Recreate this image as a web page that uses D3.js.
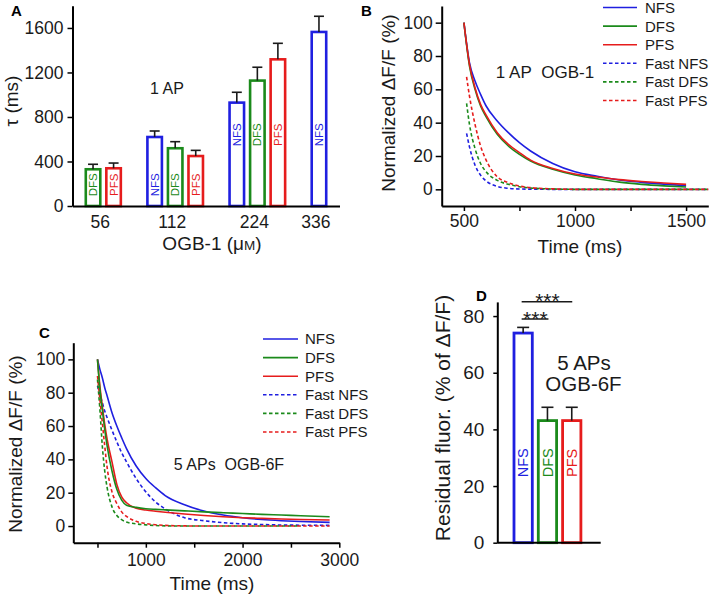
<!DOCTYPE html>
<html><head><meta charset="utf-8">
<script src="https://cdn.jsdelivr.net/npm/d3@7"></script>
<style>
body{margin:0;background:#fff}
svg{display:block;font-family:"Liberation Sans",Arial,Helvetica,sans-serif}
</style></head><body>
<svg id="chart" width="709" height="598"></svg>
<script>
// ---------- Panel A data ----------
const aGroups = ["56","56","112","112","112","224","224","224","336"];
const aSeries = ["DFS","PFS","NFS","DFS","PFS","NFS","DFS","PFS","NFS"];
const aTau    = [330, 339, 620, 519, 449, 929, 1127, 1318, 1564];
const aErr    = [45, 47, 54, 59, 51, 93, 120, 144, 141];
const aTicks  = [0, 400, 800, 1200, 1600];

// ---------- Panel B data (1 AP, OGB-1) ----------
const tB      = [500, 525, 550, 575, 600, 650, 700, 750, 800, 900, 1000, 1100, 1200, 1300, 1400, 1500];
const nfsB    = [100, 76, 65, 57, 50, 41, 34, 28, 23, 15.5, 10.5, 7.8, 5.6, 4.2, 3.1, 2.2];
const dfsB    = [100, 74, 60, 50, 43.5, 33, 26, 21, 17, 12, 8.6, 6.4, 4.3, 3.0, 2.1, 1.4];
const pfsB    = [100, 75, 61, 51, 44.5, 34, 27, 22, 17.5, 12.5, 9.2, 7.4, 5.8, 4.7, 3.8, 3.0];
const tFastB  = [512, 525, 550, 575, 600, 650, 700, 750, 800, 900, 1000, 1200, 1600];
const fastNfsB = [33.6, 25.5, 14.5, 8.5, 5, 1.8, 0.6, 0.2, 0.1, 0, 0, 0, 0];
const fastDfsB = [51.6, 39, 24.5, 15.5, 10.5, 5.4, 3, 1.6, 0.8, 0.2, 0, 0, 0];
const fastPfsB = [67.5, 56, 39, 26, 17.5, 7.5, 4, 2, 1, 0.3, 0, 0, 0];
const bXTicks = [500, 750, 1000, 1250, 1500];
const bYTicks = [0, 20, 40, 60, 80, 100];

// ---------- Panel C data (5 APs, OGB-6F) ----------
const tC      = [500, 525, 550, 575, 600, 650, 700, 750, 800, 900, 1000, 1100, 1200, 1400, 1600, 1800, 2000, 2200, 2400, 2600, 2900];
const nfsC    = [100, 94, 89, 83, 78, 68, 60, 53, 46.5, 36, 28.5, 23, 18.3, 12.8, 9, 6.6, 5, 3.9, 3.2, 2.7, 2.2];
const dfsC    = [100, 82, 70, 58, 48, 33, 22, 15.5, 12.5, 11.2, 10.4, 10, 9.7, 9.1, 8.5, 8, 7.5, 7, 6.6, 6.2, 5.6];
const pfsC    = [100, 84, 72, 61, 52, 38.5, 25, 17.5, 14, 10.6, 9.6, 8.9, 8.3, 7.2, 6.3, 5.6, 5, 4.6, 4.2, 3.9, 3.6];
const fastNfsC = [84, 79, 74, 69, 65, 57.5, 50.5, 44, 38.5, 28.5, 20.5, 14.5, 10.3, 5, 3.2, 2.0, 1.3, 0.9, 0.6, 0.5, 0.4];
const fastDfsC = [88, 70, 48, 33, 23, 11.5, 6.3, 3.8, 2.4, 1.3, 0.7, 0.3, 0.1, 0, 0, 0, 0, 0, 0, 0];
const fastPfsC = [90, 76, 62, 48, 35, 20.5, 13.5, 8.5, 5.8, 2.8, 1.5, 0.8, 0.4, 0.1, 0, 0, 0, 0, 0, 0, 0];
const cXTicks = [500, 1000, 1500, 2000, 2500, 3000];
const cXLabels = [1000, 2000, 3000];
const cYTicks = [0, 20, 40, 60, 80, 100];

// ---------- Panel D data ----------
const dSeries = ["NFS", "DFS", "PFS"];
const dResid  = [74, 43.1, 43.1];
const dErr    = [2, 4.7, 4.7];
const dTicks  = [0, 20, 40, 60, 80];

const legendNames = ["NFS", "DFS", "PFS", "Fast NFS", "Fast DFS", "Fast PFS"];

// ---------- styles ----------
const col = {NFS: "#1f1fe0", DFS: "#1b8a1b", PFS: "#e61c1c"};
const ink = "#1a1a1a";
const svg = d3.select("#chart");
svg.append("rect").attr("width", 709).attr("height", 598).attr("fill", "#fff");

function styleAxis(g, fs) {
  g.select(".domain").attr("stroke", "#000").attr("stroke-width", 2);
  g.selectAll(".tick line").attr("stroke", "#000").attr("stroke-width", 1.5);
  g.selectAll(".tick text").attr("fill", ink).attr("font-size", fs)
    .attr("font-family", "Liberation Sans, Arial, sans-serif");
}
function panelLabel(t, x, y) {
  svg.append("text").attr("x", x).attr("y", y).attr("font-size", 15)
    .attr("font-weight", "bold").attr("fill", "#000").text(t);
}
function vTitle(t, cx, cy, fs) {
  return svg.append("text").attr("transform", `translate(${cx},${cy}) rotate(-90)`)
    .attr("text-anchor", "middle").attr("dy", "0.35em").attr("font-size", fs)
    .attr("fill", ink).text(t);
}

// ================= Panel A =================
{
  const slots = [];
  let s = 0;
  aGroups.forEach((g, i) => {
    if (i > 0 && g !== aGroups[i - 1]) s += 1;
    slots.push(s); s += 1;
  });
  const xA = d3.scaleLinear().domain([-1, 12]).range([72.5, 339.5]);
  const yA = d3.scaleLinear().domain([0, 1800]).range([206, 5.7]);
  const bw = 14.5;
  const gA = svg.append("g");
  aTau.forEach((v, i) => {
    const cx = xA(slots[i]);
    gA.append("rect").attr("x", cx - bw / 2).attr("y", yA(v))
      .attr("width", bw).attr("height", yA(0) - yA(v))
      .attr("fill", "#fff").attr("stroke", col[aSeries[i]]).attr("stroke-width", 2.6);
    gA.append("line").attr("x1", cx).attr("x2", cx).attr("y1", yA(v)).attr("y2", yA(v + aErr[i]))
      .attr("stroke", ink).attr("stroke-width", 1.6);
    gA.append("line").attr("x1", cx - 5).attr("x2", cx + 5).attr("y1", yA(v + aErr[i])).attr("y2", yA(v + aErr[i]))
      .attr("stroke", ink).attr("stroke-width", 1.6);
    const lv = v > 800 ? 640 : 190;
    gA.append("text").attr("transform", `translate(${cx},${yA(lv)}) rotate(-90)`)
      .attr("text-anchor", "middle").attr("dy", "0.36em").attr("font-size", 11.5)
      .attr("fill", col[aSeries[i]]).text(aSeries[i]);
  });
  const ay = svg.append("g").attr("transform", `translate(${xA(-1)},0)`)
    .call(d3.axisLeft(yA).tickValues(aTicks).tickFormat(d3.format("d")).tickSize(5).tickPadding(4).tickSizeOuter(0));
  styleAxis(ay, 17.5);
  const ax = svg.append("g").attr("transform", `translate(0,${yA(0)})`)
    .call(d3.axisBottom(xA).tickValues([]).tickSizeOuter(0));
  styleAxis(ax, 17.5);
  const groups = Array.from(new Set(aGroups));
  groups.forEach(g => {
    const ss = slots.filter((_, i) => aGroups[i] === g);
    svg.append("text").attr("x", xA(d3.mean(ss)) - 3).attr("y", 227.5)
      .attr("text-anchor", "middle").attr("font-size", 17.5).attr("fill", ink).text(g);
  });
  const tA = svg.append("text").attr("x", 212).attr("y", 250).attr("text-anchor", "middle")
    .attr("font-size", 19).attr("fill", ink);
  tA.append("tspan").text("OGB-1 (μ");
  tA.append("tspan").attr("font-size", 13.5).text("M");
  tA.append("tspan").text(")");
  vTitle("τ (ms)", 11, 101, 19);
  svg.append("text").attr("x", 167).attr("y", 94).attr("text-anchor", "middle")
    .attr("font-size", 16).attr("fill", ink).text("1 AP");
  panelLabel("A", 11, 16);
}

// ================= Panel B =================
{
  const xB = d3.scaleLinear().domain([400, 1600]).range([441.7, 708.3]);
  const yB = d3.scaleLinear().domain([-10, 110]).range([206, 6]);
  const line = d3.line().x(d => xB(d[0])).y(d => yB(d[1])).curve(d3.curveMonotoneX);
  const g = svg.append("g");
  [[fastNfsB, "NFS"], [fastDfsB, "DFS"], [fastPfsB, "PFS"]].forEach(([arr, k]) => {
    g.append("path").attr("d", line(d3.zip(tFastB, arr))).attr("fill", "none")
      .attr("stroke", col[k]).attr("stroke-width", 1.6).attr("stroke-dasharray", "3.5,2.5");
  });
  [[nfsB, "NFS"], [dfsB, "DFS"], [pfsB, "PFS"]].forEach(([arr, k]) => {
    g.append("path").attr("d", line(d3.zip(tB, arr))).attr("fill", "none")
      .attr("stroke", col[k]).attr("stroke-width", 1.6);
  });
  const ay = svg.append("g").attr("transform", `translate(${xB(400)},0)`)
    .call(d3.axisLeft(yB).tickValues(bYTicks).tickSize(6).tickPadding(3).tickSizeOuter(0));
  styleAxis(ay, 17.5);
  const ax = svg.append("g").attr("transform", `translate(0,${yB(-10)})`)
    .call(d3.axisBottom(xB).tickValues(bXTicks).tickSize(5).tickPadding(4).tickSizeOuter(0)
      .tickFormat(d => (d % 500 === 0 ? d : "")));
  styleAxis(ax, 17.5);
  svg.append("text").attr("x", 580).attr("y", 253).attr("text-anchor", "middle")
    .attr("font-size", 19).attr("fill", ink).text("Time (ms)");
  vTitle("Normalized ΔF/F (%)", 388, 103, 19);
  svg.append("text").attr("x", 545).attr("y", 78).attr("text-anchor", "middle")
    .attr("font-size", 17).attr("fill", ink).text("1 AP\u00a0 OGB-1");
  legendNames.forEach((n, i) => {
    const k = n.replace("Fast ", "");
    const y = 7.5 + i * 18.6;
    svg.append("line").attr("x1", 603).attr("x2", 637).attr("y1", y).attr("y2", y)
      .attr("stroke", col[k]).attr("stroke-width", 1.6)
      .attr("stroke-dasharray", n.startsWith("Fast") ? "3.5,2.5" : null);
    svg.append("text").attr("x", 645).attr("y", y).attr("dy", "0.36em")
      .attr("font-size", 15).attr("fill", ink).text(n);
  });
  panelLabel("B", 361, 16);
}

// ================= Panel C =================
{
  const xC = d3.scaleLinear().domain([250, 3000]).range([73.3, 339.3]);
  const yC = d3.scaleLinear().domain([-10, 110]).range([542.7, 342.7]);
  const line = d3.line().x(d => xC(d[0])).y(d => yC(d[1])).curve(d3.curveMonotoneX);
  const g = svg.append("g");
  [[fastNfsC, "NFS"], [fastDfsC, "DFS"], [fastPfsC, "PFS"]].forEach(([arr, k]) => {
    g.append("path").attr("d", line(d3.zip(tC.slice(0, arr.length), arr))).attr("fill", "none")
      .attr("stroke", col[k]).attr("stroke-width", 1.6).attr("stroke-dasharray", "3.5,2.5");
  });
  [[nfsC, "NFS"], [pfsC, "PFS"], [dfsC, "DFS"]].forEach(([arr, k]) => {
    g.append("path").attr("d", line(d3.zip(tC, arr))).attr("fill", "none")
      .attr("stroke", col[k]).attr("stroke-width", 1.6);
  });
  const ay = svg.append("g").attr("transform", `translate(${xC(250)},0)`)
    .call(d3.axisLeft(yC).tickValues(cYTicks).tickSize(5).tickPadding(3).tickSizeOuter(0));
  styleAxis(ay, 17.5);
  const ax = svg.append("g").attr("transform", `translate(0,${yC(-10)})`)
    .call(d3.axisBottom(xC).tickValues(cXTicks).tickSize(5).tickPadding(6).tickSizeOuter(0)
      .tickFormat(d => (cXLabels.includes(d) ? d : "")));
  styleAxis(ax, 17.5);
  svg.append("text").attr("x", 212).attr("y", 590).attr("text-anchor", "middle")
    .attr("font-size", 19).attr("fill", ink).text("Time (ms)");
  vTitle("Normalized ΔF/F (%)", 15, 444, 19);
  svg.append("text").attr("x", 229).attr("y", 470).attr("text-anchor", "middle")
    .attr("font-size", 16).attr("fill", ink).text("5 APs\u00a0 OGB-6F");
  legendNames.forEach((n, i) => {
    const k = n.replace("Fast ", "");
    const y = 339 + i * 18.6;
    svg.append("line").attr("x1", 263).attr("x2", 298).attr("y1", y).attr("y2", y)
      .attr("stroke", col[k]).attr("stroke-width", 1.6)
      .attr("stroke-dasharray", n.startsWith("Fast") ? "3.5,2.5" : null);
    svg.append("text").attr("x", 305).attr("y", y).attr("dy", "0.36em")
      .attr("font-size", 15).attr("fill", ink).text(n);
  });
  panelLabel("C", 39, 338);
}

// ================= Panel D =================
{
  const xD = d3.scaleBand().domain(dSeries).range([511, 583.9]).paddingInner(0.247).paddingOuter(0.1235);
  const yD = d3.scaleLinear().domain([0, 85]).range([542.7, 301.9]);
  const g = svg.append("g");
  dSeries.forEach((k, i) => {
    const x0 = xD(k), w = xD.bandwidth(), cx = x0 + w / 2, v = dResid[i];
    g.append("rect").attr("x", x0).attr("y", yD(v)).attr("width", w).attr("height", yD(0) - yD(v))
      .attr("fill", "#fff").attr("stroke", col[k]).attr("stroke-width", 2.8);
    g.append("line").attr("x1", cx).attr("x2", cx).attr("y1", yD(v)).attr("y2", yD(v + dErr[i]))
      .attr("stroke", ink).attr("stroke-width", 1.6);
    g.append("line").attr("x1", cx - 6).attr("x2", cx + 6).attr("y1", yD(v + dErr[i])).attr("y2", yD(v + dErr[i]))
      .attr("stroke", ink).attr("stroke-width", 1.6);
    g.append("text").attr("transform", `translate(${cx},${yD(28.2)}) rotate(-90)`)
      .attr("text-anchor", "middle").attr("dy", "0.36em").attr("font-size", 14.5)
      .attr("fill", col[k]).text(k);
  });
  const ay = svg.append("g").attr("transform", `translate(497.3,0)`)
    .call(d3.axisLeft(yD).tickValues(dTicks).tickSize(4).tickPadding(9).tickSizeOuter(0));
  styleAxis(ay, 19);
  svg.append("line").attr("x1", 497.3).attr("x2", 600.7).attr("y1", yD(0)).attr("y2", yD(0))
    .attr("stroke", "#000").attr("stroke-width", 2);
  const c0 = xD("NFS") + xD.bandwidth() / 2;
  const c1 = xD("DFS") + xD.bandwidth() / 2;
  const c2 = xD("PFS") + xD.bandwidth() / 2;
  svg.append("line").attr("x1", c0 - 1.5).attr("x2", c1 + 1).attr("y1", 319).attr("y2", 319)
    .attr("stroke", ink).attr("stroke-width", 1.5);
  svg.append("line").attr("x1", c0 - 1.5).attr("x2", c2 + 0.5).attr("y1", 301.7).attr("y2", 301.7)
    .attr("stroke", ink).attr("stroke-width", 1.5);
  svg.append("text").attr("x", (c0 + c1) / 2).attr("y", 326).attr("text-anchor", "middle")
    .attr("font-size", 21).attr("fill", ink).text("***");
  svg.append("text").attr("x", (c0 + c2) / 2).attr("y", 307.5).attr("text-anchor", "middle")
    .attr("font-size", 21).attr("fill", ink).text("***");
  svg.append("text").attr("x", 584).attr("y", 370).attr("text-anchor", "middle")
    .attr("font-size", 20.5).attr("fill", ink).text("5 APs");
  svg.append("text").attr("x", 583.5).attr("y", 391).attr("text-anchor", "middle")
    .attr("font-size", 20.5).attr("fill", ink).text("OGB-6F");
  vTitle("Residual fluor. (% of ΔF/F)", 443, 418, 21);
  panelLabel("D", 476, 301);
}
</script>
</body></html>
